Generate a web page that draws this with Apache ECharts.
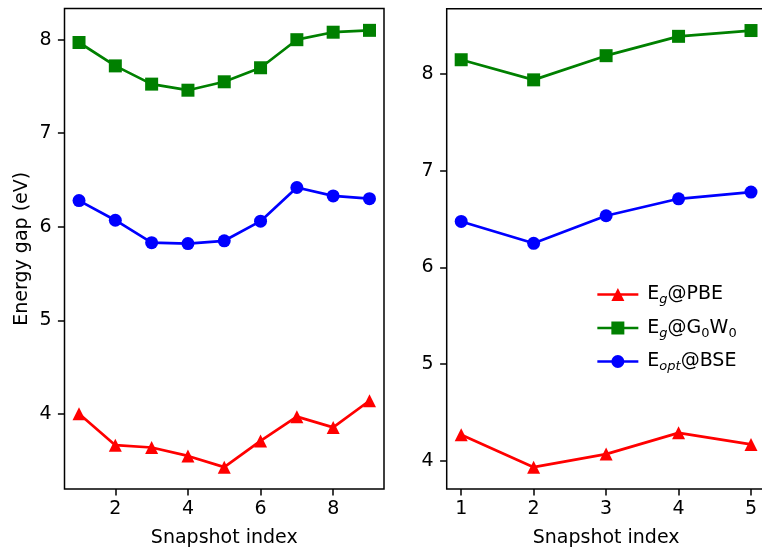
<!DOCTYPE html>
<html>
<head>
<meta charset="utf-8">
<script src="https://cdn.jsdelivr.net/npm/echarts@6/dist/echarts.min.js"></script>
<style>
  html, body { margin: 0; padding: 0; background: #fff; }
  #chart { width: 762px; height: 550px; }
</style>
</head>
<body>
<div id="chart"></div>
<script>
// Snapshot indices for each panel
const snapshotsA = [1, 2, 3, 4, 5, 6, 7, 8, 9];
const snapshotsB = [1, 2, 3, 4, 5];

// Energy gaps (eV), panel A
const pbeA  = [4.00, 3.665, 3.64, 3.55, 3.43, 3.71, 3.97, 3.855, 4.14];
const g0w0A = [7.97, 7.72, 7.525, 7.46, 7.55, 7.70, 8.00, 8.08, 8.10];
const bseA  = [6.28, 6.07, 5.83, 5.82, 5.85, 6.06, 6.42, 6.33, 6.30];

// Energy gaps (eV), panel B
const pbeB  = [4.27, 3.935, 4.07, 4.29, 4.17];
const g0w0B = [8.148, 7.94, 8.19, 8.39, 8.45];
const bseB  = [6.476, 6.25, 6.535, 6.71, 6.78];

// Tick values
const xTicksA = [2, 4, 6, 8];
const xTicksB = [1, 2, 3, 4, 5];
const yTicksA = [4, 5, 6, 7, 8];
const yTicksB = [4, 5, 6, 7, 8];

const seriesNames = ['Eg@PBE', 'Eg@G0W0', 'Eopt@BSE'];
const legendRich = {
  'Eg@PBE': '{m|E}{si|g}{m|@PBE}',
  'Eg@G0W0': '{m|E}{si|g}{m|@G}{s|0}{m|W}{s|0}',
  'Eopt@BSE': '{m|E}{si|opt}{m|@BSE}'
};

const FONT = 'DejaVu Sans';
const FS = 19;

// Axis limits padded by 5% of the data span on each side
function padded(arrs) {
  const all = [].concat(...arrs);
  const lo = Math.min(...all), hi = Math.max(...all);
  const pad = (hi - lo) * 0.05;
  return [lo - pad, hi + pad];
}
const xLimA = padded([snapshotsA]);
const xLimB = padded([snapshotsB]);
const yLimA = padded([pbeA, g0w0A, bseA]);
const yLimB = padded([pbeB, g0w0B, bseB]);

function xAxis(gridIndex, lim, ticks) {
  return {
    type: 'value', gridIndex, min: lim[0], max: lim[1],
    name: 'Snapshot index', nameLocation: 'middle', nameGap: 40,
    nameTextStyle: { fontFamily: FONT, fontSize: FS, color: '#000' },
    axisLine: { show: false },
    splitLine: { show: false },
    axisTick: { show: true, length: 6.6, inside: false, customValues: ticks,
                lineStyle: { color: '#000', width: 1.5 } },
    axisLabel: { customValues: ticks, margin: 11, fontFamily: FONT, fontSize: FS, color: '#000' }
  };
}
function yAxis(gridIndex, lim, ticks, withName) {
  return {
    type: 'value', gridIndex, min: lim[0], max: lim[1],
    name: withName ? 'Energy gap (eV)' : '', nameLocation: 'middle', nameGap: 33,
    nameRotate: 90,
    nameTextStyle: { fontFamily: FONT, fontSize: FS, color: '#000' },
    axisLine: { show: false },
    splitLine: { show: false },
    axisTick: { show: true, length: 6.6, inside: false, customValues: ticks,
                lineStyle: { color: '#000', width: 1.5 } },
    axisLabel: { customValues: ticks, margin: 13, fontFamily: FONT, fontSize: FS, color: '#000' }
  };
}

function pairs(xs, ys) { return xs.map((x, i) => [x, ys[i]]); }

function lineSeries(name, xi, xs, ys, color, symbol) {
  return {
    name, type: 'line', xAxisIndex: xi, yAxisIndex: xi,
    data: pairs(xs, ys),
    symbol, symbolSize: 13, showSymbol: true,
    lineStyle: { color, width: 2.7 },
    itemStyle: { color, borderColor: color, borderWidth: 0 },
    emphasis: { disabled: true },
    z: 3
  };
}

const gridStyle = { show: true, borderColor: '#000', borderWidth: 1.5, backgroundColor: 'transparent',
                    containLabel: false, outerBoundsMode: 'none' };

const option = {
  animation: false,
  backgroundColor: '#fff',
  grid: [
    Object.assign({ left: 64.5, top: 8.5, width: 319.5, height: 480.5 }, gridStyle),
    Object.assign({ left: 446.7, top: 8.7, width: 318.8, height: 480.3 }, gridStyle)
  ],
  xAxis: [xAxis(0, xLimA, xTicksA), xAxis(1, xLimB, xTicksB)],
  yAxis: [yAxis(0, yLimA, yTicksA, true), yAxis(1, yLimB, yTicksB, false)],
  legend: {
    data: seriesNames,
    orient: 'vertical',
    left: 591, top: 280,
    itemWidth: 41, itemHeight: 16.25, itemGap: 12,
    formatter: (name) => legendRich[name],
    lineStyle: { width: 2.7 },
    textStyle: {
      padding: [0, 0, 0, 4],
      rich: {
        m: { fontFamily: FONT, fontSize: FS, lineHeight: 24, color: '#000' },
        s: { fontFamily: FONT, fontSize: 13, lineHeight: 13, verticalAlign: 'bottom', color: '#000' },
        si: { fontFamily: FONT, fontSize: 13, lineHeight: 13, verticalAlign: 'bottom', fontStyle: 'italic', color: '#000' }
      }
    }
  },
  series: [
    lineSeries(seriesNames[0], 0, snapshotsA, pbeA, '#ff0000', 'triangle'),
    lineSeries(seriesNames[1], 0, snapshotsA, g0w0A, '#008000', 'rect'),
    lineSeries(seriesNames[2], 0, snapshotsA, bseA, '#0000ff', 'circle'),
    lineSeries(seriesNames[0], 1, snapshotsB, pbeB, '#ff0000', 'triangle'),
    lineSeries(seriesNames[1], 1, snapshotsB, g0w0B, '#008000', 'rect'),
    lineSeries(seriesNames[2], 1, snapshotsB, bseB, '#0000ff', 'circle')
  ]
};

const chart = echarts.init(document.getElementById('chart'), null, { renderer: 'canvas' });
chart.setOption(option);
</script>
</body>
</html>
